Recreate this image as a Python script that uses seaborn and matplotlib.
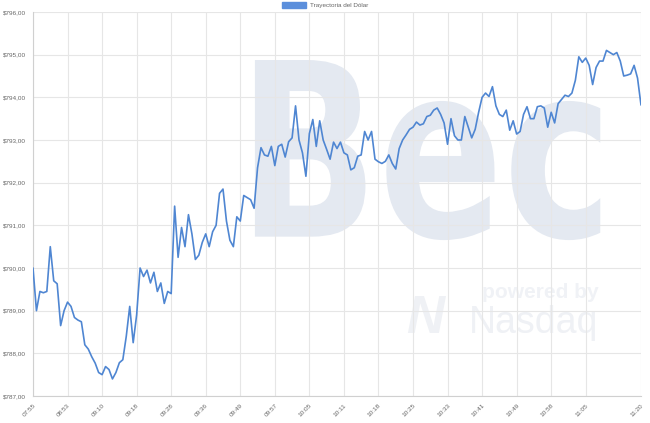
import pandas as pd
import matplotlib
matplotlib.use("Agg")
import matplotlib.pyplot as plt
import seaborn as sns
from matplotlib.patches import Patch, PathPatch
from matplotlib.textpath import TextPath
from matplotlib.font_manager import FontProperties
from matplotlib.transforms import Affine2D
from matplotlib.ticker import FuncFormatter

# tick labels shown on the x axis (every 10th sample + last one)
tick_labels = ['07:55', '08:53', '09:10', '09:18', '09:28', '09:36', '09:49', '09:57',
               '10:05', '10:11', '10:18', '10:25', '10:33', '10:41', '10:49', '10:58',
               '11:05', '11:20']

# dollar price, one value per sample
precio = [
    790.0, 789.0, 789.45, 789.42, 789.45, 790.5, 789.7, 789.63, 788.65, 789.0,
    789.2, 789.1, 788.84, 788.78, 788.74, 788.2, 788.1, 787.92, 787.77, 787.55,
    787.5, 787.69, 787.62, 787.4, 787.55, 787.78, 787.85, 788.4, 789.1, 788.25,
    788.9, 790.0, 789.8, 789.95, 789.65, 789.9, 789.45, 789.65, 789.17, 789.45,
    789.4, 791.45, 790.25, 790.95, 790.5, 791.25, 790.8, 790.2, 790.3, 790.6,
    790.8, 790.5, 790.85, 791.0, 791.75, 791.85, 791.1, 790.65, 790.5, 791.2,
    791.1, 791.7, 791.65, 791.6, 791.4, 792.35, 792.82, 792.65, 792.62, 792.85,
    792.4, 792.85, 792.9, 792.6, 792.96, 793.05, 793.8, 793.0, 792.7, 792.15,
    793.15, 793.48, 792.85, 793.45, 793.0, 792.78, 792.55, 792.95, 792.8, 792.95,
    792.7, 792.65, 792.3, 792.35, 792.62, 792.65, 793.2, 793.0, 793.2, 792.55,
    792.49, 792.45, 792.5, 792.65, 792.45, 792.32, 792.8, 793.0, 793.12, 793.25,
    793.3, 793.42, 793.35, 793.38, 793.55, 793.58, 793.7, 793.75, 793.6, 793.4,
    792.9, 793.5, 793.1, 793.0, 793.0, 793.55, 793.3, 793.05, 793.25, 793.65,
    794.0, 794.1, 794.02, 794.25, 793.8, 793.6, 793.55, 793.7, 793.23, 793.45,
    793.14, 793.2, 793.6, 793.78, 793.5, 793.5, 793.78, 793.8, 793.75, 793.3,
    793.65, 793.4, 793.85, 793.95, 794.05, 794.02, 794.1, 794.4, 794.95, 794.82,
    794.92, 794.75, 794.3, 794.7, 794.85, 794.85, 795.1, 795.05, 795.0, 795.05,
    794.85, 794.5, 794.52, 794.55, 794.75, 794.45, 793.82,
]

df = pd.DataFrame({'idx': range(len(precio)), 'precio': precio})

sns.set_style('white')
plt.rcParams['font.family'] = ['Liberation Sans', 'DejaVu Sans']

line_color = '#4f86d2'
text_color = '#666666'
grid_color = '#e6e6e6'

fig = plt.figure(figsize=(6.5, 4.23), dpi=100)
ax = fig.add_axes([33 / 650, 27 / 423, 608 / 650, 384 / 423])

# background watermark
bold = FontProperties(family='DejaVu Sans', weight='bold')
tp = TextPath((0, 0), 'Bec', size=1, prop=bold)
ext = tp.get_extents()
x0, x1, y0, y1 = 0.365, 0.933, 0.406, 0.875
sx = (x1 - x0) / ext.width
sy = (y1 - y0) / ext.height
tr = Affine2D().translate(-ext.x0, -ext.y0).scale(sx, sy).translate(x0, y0) + ax.transAxes
ax.add_patch(PathPatch(tp, transform=tr, facecolor='#e4e9f1', edgecolor='none', zorder=0))
ax.text(0.93, 0.27, 'powered by', transform=ax.transAxes, ha='right', va='center',
        fontsize=15, fontweight='bold', color='#f0f2f6', zorder=0)
ax.text(0.93, 0.19, 'Nasdaq', transform=ax.transAxes, ha='right', va='center',
        fontsize=27, color='#eff1f5', zorder=0)
ax.text(0.645, 0.20, 'N', transform=ax.transAxes, ha='center', va='center',
        fontsize=38, fontweight='bold', fontstyle='italic', color='#eff1f5', zorder=0)

sns.lineplot(data=df, x='idx', y='precio', ax=ax, color=line_color, linewidth=1.2,
             zorder=3)

ax.set_xlim(0, len(precio) - 1)
ax.set_ylim(787, 796)
ticks = list(range(0, 161, 10)) + [len(precio) - 1]
ax.set_xticks(ticks)
ax.set_xticklabels(tick_labels, rotation=45, ha='right', rotation_mode='anchor')
ax.set_yticks(range(787, 797))
ax.yaxis.set_major_formatter(FuncFormatter(lambda v, p: ('$%.2f' % v).replace('.', ',')))

ax.grid(True, color=grid_color, linewidth=0.8)
ax.set_axisbelow(True)
ax.tick_params(axis='both', labelsize=4.6, colors=text_color, length=3, width=0.8,
               color=grid_color, pad=2)
for s in ['top', 'right']:
    ax.spines[s].set_visible(False)
for s in ['left', 'bottom']:
    ax.spines[s].set_color('#d0d0d0')
    ax.spines[s].set_linewidth(0.8)
ax.set_xlabel('')
ax.set_ylabel('')

handle = Patch(facecolor='#5b8fdc', edgecolor='#5b8fdc')
fig.legend([handle], ['Trayectoria del Dólar'], loc='upper center',
           bbox_to_anchor=(0.5, 1.005), frameon=False, fontsize=4.6,
           labelcolor=text_color, handlelength=3.8, handleheight=1.2,
           handletextpad=0.6, borderpad=0.1)

plt.savefig('out.png', dpi=100)
plt.close()
